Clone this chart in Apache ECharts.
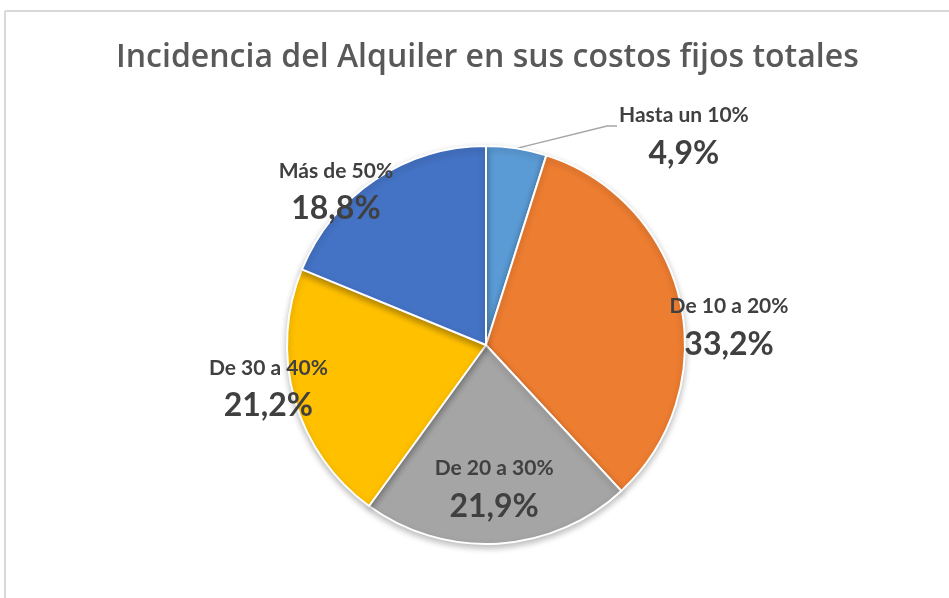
<!DOCTYPE html>
<html>
<head>
<meta charset="utf-8">
<script src="https://cdn.jsdelivr.net/npm/echarts@6/dist/echarts.min.js"></script>
<style>
  html, body { margin: 0; padding: 0; background: #fff; }
  #chart { width: 949px; height: 598px; }
</style>
</head>
<body>
<div id="chart"></div>
<script>
// datos del grafico
var categorias = ['Hasta un 10%', 'De 10 a 20%', 'De 20 a 30%', 'De 30 a 40%', 'Más de 50%'];
var valores = [4.9, 33.2, 21.9, 21.2, 18.8];
var colores = ['#5B9BD5', '#ED7D31', '#A5A5A5', '#FFC000', '#4472C4'];

// desplazamiento de las etiquetas (como en Excel)
var desplazamientos = [[6, 0], [143, 7], [2, 44], [-119, 18], [-93, -66]];

var centro = [486, 345];
var radio = 199;

var datos = categorias.map(function (c, i) {
  var item = { name: c, value: valores[i], itemStyle: { color: colores[i] } };
  if (i === 0) {
    item.label = { position: 'outside' };
    item.labelLine = { show: true };
  }
  return item;
});

// punto del borde del sector (angulo medio) para la linea guia
function puntoBorde(idx) {
  var total = valores.reduce(function (a, b) { return a + b; }, 0);
  var acum = 0;
  for (var i = 0; i < idx; i++) acum += valores[i];
  var ang = (acum + valores[idx] / 2) / total * Math.PI * 2;
  return [centro[0] + radio * Math.sin(ang), centro[1] - radio * Math.cos(ang)];
}

var chart = echarts.init(document.getElementById('chart'));
chart.setOption({
  backgroundColor: '#fff',
  animation: false,
  title: {
    text: 'Incidencia del Alquiler en sus costos fijos totales',
    left: 111,
    top: 37,
    textStyle: { fontFamily: 'Open Sans', fontSize: 32, fontWeight: 600, color: '#595959' }
  },
  // marco gris del grafico
  graphic: [
    { type: 'line', shape: { x1: 5, y1: 11, x2: 949, y2: 11 }, style: { stroke: '#d9d9d9', lineWidth: 2 } },
    { type: 'line', shape: { x1: 5, y1: 11, x2: 5, y2: 598 }, style: { stroke: '#d9d9d9', lineWidth: 2 } }
  ],
  series: [{
    type: 'pie',
    center: centro,
    radius: ['0%', radio],
    startAngle: 90,
    clockwise: true,
    avoidLabelOverlap: false,
    itemStyle: {
      borderColor: '#fff',
      borderWidth: 2,
      shadowBlur: 6,
      shadowOffsetY: 3,
      shadowColor: 'rgba(0,0,0,0.25)'
    },
    emphasis: { disabled: true },
    label: {
      show: true,
      position: 'inside',
      formatter: function (p) {
        return '{a|' + p.name + '}\n{v|' + p.value.toFixed(1).replace('.', ',') + '%}';
      },
      rich: {
        a: { fontFamily: 'Lato', fontSize: 21, fontWeight: 'bold', color: '#404040', lineHeight: 30, align: 'center' },
        v: { fontFamily: 'Lato', fontSize: 32, fontWeight: 'bold', color: '#404040', lineHeight: 46, align: 'center' }
      }
    },
    labelLine: {
      show: false,
      length: 10,
      length2: 90,
      lineStyle: { color: '#A6A6A6', width: 1.5 }
    },
    labelLayout: function (p) {
      var d = desplazamientos[p.dataIndex];
      if (p.dataIndex === 0) {
        var r = p.labelRect;
        var s = puntoBorde(0);
        var x = r.x + d[0];
        var y = r.y + 21;
        return { dx: d[0], dy: d[1], labelLinePoints: [s, [x - 12, y], [x - 2, y]] };
      }
      return { dx: d[0], dy: d[1] };
    },
    data: datos
  }]
});
</script>
</body>
</html>
